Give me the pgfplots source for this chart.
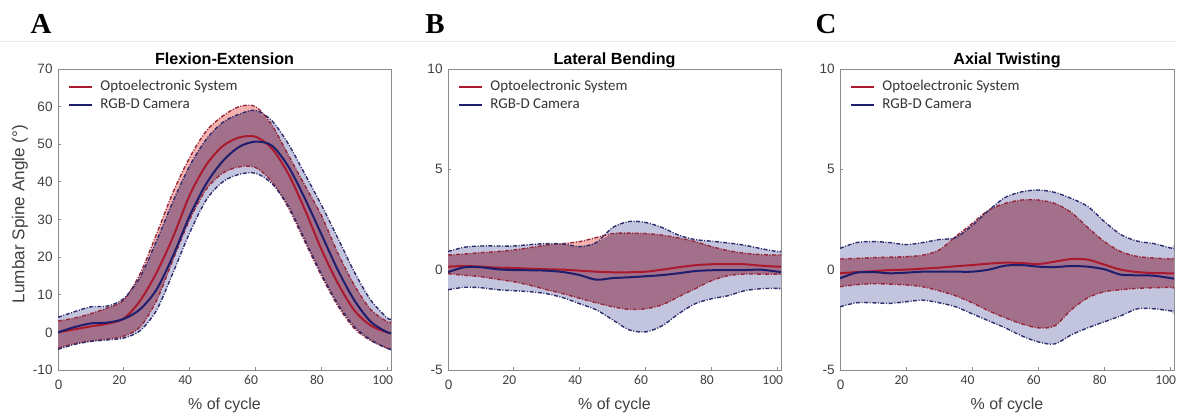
\documentclass[border=0pt]{standalone}
\usepackage{pgfplots}
\pgfplotsset{compat=1.18}
\usepackage{pgfplotstable}
\usepackage{fontspec}
\setmainfont{Liberation Sans}
\newfontfamily\carlito{Carlito}
\newfontfamily\timesf{Liberation Serif}

\definecolor{cRline}{RGB}{170,25,45}
\definecolor{cBline}{RGB}{30,30,110}
\definecolor{cRedge}{RGB}{150,40,60}
\definecolor{cBedge}{RGB}{45,45,110}
\definecolor{cBfill}{RGB}{195,196,222}
\definecolor{cRfill}{RGB}{245,178,175}
\definecolor{cOfill}{RGB}{162,112,138}

\pgfplotstableread{
x     rm    ru    rl    bm    bu    bl
0     0     3     -4.2  0     4     -4.5
5     0.8   3.8   -3    1.4   5.5   -3.2
10    1.6   5     -2.3  2.4   6.8   -2.4
15    2.3   6.5   -1.8  2.6   7     -2
20    3.7   8.6   -1    3.6   9     -1.5
25    8.5   15.7  1.5   6.2   14.8  0.5
30    16    26.3  8.6   11.5  24.5  6
35    25.5  37.4  19.5  20.5  35    16
40    36.5  46.5  30    31    44.3  26.5
45    44.5  53.5  38    39.5  51.3  35.2
50    49.5  57.5  42.3  45.5  55.8  40
55    51.8  60    44    49.3  58    42
60    52    60    43.8  50.7  59    42.3
65    48.8  55    40    49.6  56.2  39.5
70    42    47    33    44    50    33.5
75    32.5  39    24    35.5  42    24.5
80    22    31    15    26    33.8  15.5
85    13    21    7     16.5  25    7.5
90    5.8   12.5  1     8.5   16    1.5
95    1.8   6     -2.2  2.8   8.5   -2
100   0     2.8   -4.2  0     3.8   -4.3
101.1 -0.2  2.6   -4.3  -0.1  3.6   -4.4
}\tA

\pgfplotstableread{
x     rm     ru    rl     bm     bu    bl
0     0.15   0.73  -0.2   -0.12  0.9   -1.0
5     0.18   0.78  -0.28  0.12   1.12  -0.88
10    0.15   0.85  -0.35  0.12   1.18  -0.9
15    0.1    0.9   -0.48  0.02   1.18  -1.0
20    0.08   0.98  -0.6   -0.02  1.18  -1.05
25    0.05   1.1   -0.78  -0.03  1.25  -1.1
30    0.02   1.23  -1.0   -0.05  1.3   -1.2
35    0.0    1.3   -1.2   -0.12  1.28  -1.4
40    -0.05  1.4   -1.43  -0.27  1.15  -1.7
45    -0.1   1.6   -1.65  -0.5   1.35  -2.0
50    -0.13  1.8   -1.85  -0.42  2.1   -2.5
55    -0.13  1.82  -1.98  -0.38  2.4   -3.0
60    -0.1   1.8   -1.95  -0.33  2.35  -3.1
65    0.0    1.72  -1.75  -0.27  2.1   -2.8
70    0.12   1.58  -1.35  -0.18  1.72  -2.2
75    0.22   1.4   -0.95  -0.07  1.5   -1.7
80    0.27   1.15  -0.55  -0.03  1.42  -1.45
85    0.28   0.95  -0.3   -0.02  1.33  -1.3
90    0.27   0.82  -0.22  -0.02  1.22  -1.05
95    0.2    0.75  -0.22  0.0    1.05  -0.95
100   0.15   0.73  -0.22  -0.1   0.9   -0.93
101.1 0.15   0.73  -0.22  -0.12  0.9   -0.93
}\tB

\pgfplotstableread{
x     rm     ru    rl     bm     bu    bl
0     -0.18  0.53  -0.85  -0.43  1.06  -1.85
5     -0.12  0.56  -0.75  -0.15  1.35  -1.65
10    -0.08  0.6   -0.7   -0.12  1.4   -1.65
15    -0.02  0.62  -0.72  -0.18  1.35  -1.68
20    0.0    0.65  -0.76  -0.15  1.25  -1.6
25    0.05   0.72  -0.85  -0.1   1.35  -1.52
30    0.1    0.98  -1.05  -0.1   1.5   -1.65
35    0.17   1.65  -1.3   -0.1   1.6   -1.85
40    0.23   2.3   -1.65  -0.1   2.2   -2.2
45    0.3    2.97  -2.05  0.0    2.95  -2.55
50    0.35   3.3   -2.4   0.2    3.6   -2.9
55    0.33   3.47  -2.7   0.23   3.88  -3.3
60    0.28   3.47  -2.9   0.15   3.97  -3.6
65    0.4    3.3   -2.8   0.13   3.85  -3.7
70    0.53   2.85  -2.0   0.18   3.55  -3.25
75    0.5    2.1   -1.4   0.15   3.15  -2.9
80    0.25   1.4   -1.1   0.02   2.4   -2.6
85    0.0    0.9   -1.0   -0.25  1.75  -2.3
90    -0.12  0.66  -0.93  -0.28  1.42  -1.95
95    -0.17  0.58  -0.9   -0.3   1.3   -1.95
100   -0.18  0.53  -0.88  -0.42  1.08  -2.05
101.1 -0.18  0.53  -0.88  -0.45  1.05  -2.05
}\tC

% closed outlines: rows in increasing x, then the same rows in decreasing x
\pgfplotstablesort[sort key=x, sort cmp=float <]{\tAp}{\tA}
\pgfplotstablesort[sort key=x, sort cmp=float >]{\tAr}{\tA}
\pgfplotstablevertcat{\tAp}{\tAr}
\pgfplotstablesort[sort key=x, sort cmp=float <]{\tBp}{\tB}
\pgfplotstablesort[sort key=x, sort cmp=float >]{\tBr}{\tB}
\pgfplotstablevertcat{\tBp}{\tBr}
\pgfplotstablesort[sort key=x, sort cmp=float <]{\tCp}{\tC}
\pgfplotstablesort[sort key=x, sort cmp=float >]{\tCr}{\tC}
\pgfplotstablevertcat{\tCp}{\tCr}

\pgfplotsset{
  panel/.style={
    scale only axis, width=166.5bp, height=150.5bp,
    xmin=0, xmax=101.1,
    /pgf/number format/assume math mode=true,
    axis line style={draw=black!45, line width=0.4bp},
    tick align=inside, tick pos=left, major tick length=1.5bp,
    tick style={black!45, line width=0.4bp},
    xtick={20,40,60,80,100},
    xticklabel style={font=\carlito\fontsize{6.8}{7}\selectfont, text=black!75, anchor=center, yshift=-5bp, xshift=-2.3bp},
    extra x ticks={0}, extra x tick labels={0},
    extra x tick style={xticklabel style={font=\fontsize{6.8}{7}\selectfont, yshift=-2.5bp, xshift=2.6bp}},
    yticklabel style={font=\fontsize{6.8}{7}\selectfont, text=black!75, xshift=0.8bp},
    every axis title/.style={at={(rel axis cs:0.5,1.0133)}, anchor=base, font=\bfseries\fontsize{8.1}{9}\selectfont},
    xlabel={\% of cycle},
    xlabel style={at={(rel axis cs:0.5,-0.1312)}, anchor=base, font=\fontsize{8}{9}\selectfont, text=black!75},
    legend cell align=left,
    legend style={at={(rel axis cs:0,1)}, anchor=north west, xshift=5bp, yshift=-5.6bp,
      draw=none, fill=none, inner sep=0pt, row sep=2.2bp, column sep=3.5bp,
      font=\carlito\fontsize{7.5}{9}\selectfont, text=black!80,
      nodes={inner sep=0pt, text height=5.2bp, text depth=1.6bp}},
    legend image code/.code={\draw[##1] (0bp,0bp) -- (11.5bp,0bp);},
  },
  redge/.style={cRedge, line width=0.7bp, smooth, dash pattern=on 2bp off 0.8bp on 0.5bp off 0.8bp},
  bedge/.style={cBedge, line width=0.7bp, smooth, dash pattern=on 2bp off 0.8bp on 0.5bp off 0.8bp},
}

\newcommand{\panel}[2]{%
\addplot[fill=cBfill, draw=none, smooth, forget plot] table[x=x, y expr={ifthenelse(\coordindex<22, \thisrow{bu}, \thisrow{bl})}]{#2};
\addplot[fill=cRfill, draw=none, smooth, forget plot] table[x=x, y expr={ifthenelse(\coordindex<22, \thisrow{ru}, \thisrow{rl})}]{#2};
\addplot[fill=cOfill, draw=none, smooth, forget plot] table[x=x, y expr={ifthenelse(\coordindex<22, min(\thisrow{ru},\thisrow{bu}), max(\thisrow{rl},\thisrow{bl}))}]{#2};
\addplot[redge, forget plot] table[x=x,y=ru]{#1};
\addplot[redge, forget plot] table[x=x,y=rl]{#1};
\addplot[bedge, forget plot] table[x=x,y=bu]{#1};
\addplot[bedge, forget plot] table[x=x,y=bl]{#1};
\addplot[cRline, line width=1bp, smooth] table[x=x,y=rm]{#1};
\addlegendentry{Optoelectronic System}
\addplot[cBline, line width=1bp, smooth] table[x=x,y=bm]{#1};
\addlegendentry{RGB-D Camera}
}

\begin{document}
\begin{tikzpicture}
\useasboundingbox (0,0) rectangle (588.5bp,207.5bp);
\draw[black!8, line width=0.5bp] (0,186.75bp) -- (588.5bp,186.75bp);
\node[font=\timesf\bfseries\fontsize{14.5}{16}\selectfont] at (20.5bp,195.5bp) {A};
\node[font=\timesf\bfseries\fontsize{14.5}{16}\selectfont] at (217.5bp,195.5bp) {B};
\node[font=\timesf\bfseries\fontsize{14.5}{16}\selectfont] at (413bp,195.5bp) {C};

\begin{axis}[panel, at={(29bp,22.5bp)}, anchor=south west,
  ymin=-10, ymax=70, ytick={-10,0,...,70},
  title={Flexion-Extension},
  ylabel={Lumbar Spine Angle (°)},
  ylabel style={at={(rel axis cs:-0.114,0.518)}, anchor=center, font=\fontsize{8.6}{9}\selectfont, text=black!75}]
\panel{\tA}{\tAp}
\end{axis}

\begin{axis}[panel, at={(224bp,22.5bp)}, anchor=south west,
  ymin=-5, ymax=10, ytick={-5,0,5,10},
  title={Lateral Bending}]
\panel{\tB}{\tBp}
\end{axis}

\begin{axis}[panel, at={(420bp,22.5bp)}, anchor=south west, width=167bp,
  ymin=-5, ymax=10, ytick={-5,0,5,10},
  title={Axial Twisting}]
\panel{\tC}{\tCp}
\end{axis}
\end{tikzpicture}
\end{document}
